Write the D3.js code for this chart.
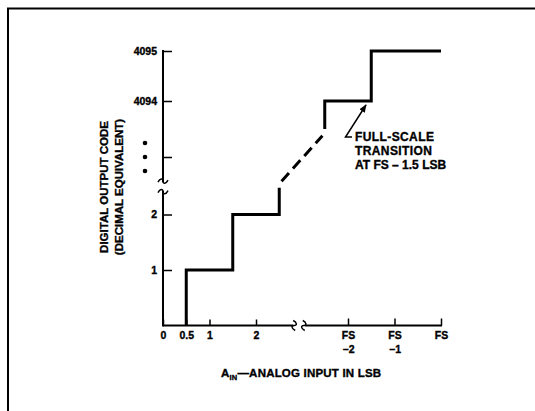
<!DOCTYPE html>
<html>
<head>
<meta charset="utf-8">
<script src="https://cdn.jsdelivr.net/npm/d3@7"></script>
<style>
  body { margin: 0; background: #fff; }
  text { font-family: "Liberation Sans", Arial, sans-serif; font-weight: bold; fill: #000; stroke: #000; stroke-width: 0.35px; }
</style>
</head>
<body>
<div id="chart"></div>
<script>
// step data, lower part in LSB, upper part as offset from FS
const lowX = [0.5, 0.5, 1.5, 1.5, 2.5, 2.5];
const lowY = [0, 1, 1, 2, 2, 2.48];
const highX = [-2.5, -2.5, -1.5, -1.5, 0];
const highY = [4093.5, 4094, 4094, 4095, 4095];
const dashLow = [2.55, 2.6];      // [x, y] on lower scales
const dashHigh = [-2.55, 4093.38]; // [x, y] on upper scales

const xLowTicks = [0, 0.5, 1, 2];
const xLowLabels = ["0", "0.5", "1", "2"];
const xHighTicks = [-2, -1, 0];
const xHighLabels = [["FS", "\u22122"], ["FS", "\u22121"], ["FS"]];
const yLowTicks = [1, 2];
const yHighTicks = [4093, 4094, 4095];
const yHighLabels = ["", "4094", "4095"];

const width = 535, height = 411;

const xLow = d3.scaleLinear().domain([0, 1]).range([163, 209.5]);
const xHigh = d3.scaleLinear().domain([-2, 0]).range([348, 441]);
const yLow = d3.scaleLinear().domain([0, 1]).range([325.5, 270]);
const yHigh = d3.scaleLinear().domain([4093, 4094, 4095]).range([157, 101, 51]);

const svg = d3.select("#chart").append("svg")
    .attr("width", width)
    .attr("height", height);

// frame
svg.append("path")
    .attr("d", "M8,411V8.5H535")
    .attr("fill", "none")
    .attr("stroke", "#000")
    .attr("stroke-width", 2);

const axisColor = "#000";

// x axis lines (broken)
svg.append("line")
    .attr("x1", xLow(0)).attr("x2", xLow(2.8))
    .attr("y1", yLow(0)).attr("y2", yLow(0))
    .attr("stroke", axisColor).attr("stroke-width", 2);
svg.append("line")
    .attr("x1", xHigh(-2.93)).attr("x2", xHigh(0) + 1)
    .attr("y1", yLow(0)).attr("y2", yLow(0))
    .attr("stroke", axisColor).attr("stroke-width", 2);

// y axis lines (broken)
svg.append("line")
    .attr("x1", xLow(0)).attr("x2", xLow(0))
    .attr("y1", yLow(0) + 1).attr("y2", yLow(2.43))
    .attr("stroke", axisColor).attr("stroke-width", 2);
svg.append("line")
    .attr("x1", xLow(0)).attr("x2", xLow(0))
    .attr("y1", yHigh(4092.55)).attr("y2", yHigh(4095) - 1)
    .attr("stroke", axisColor).attr("stroke-width", 2);

// break marks
function vWave(x, y) {
  return `M${x - 1},${y - 5} C${x + 3},${y - 3} ${x + 3},${y} ${x},${y} S${x - 3},${y + 3} ${x + 1},${y + 5}`;
}
function hWave(x, y) {
  return `M${x - 5},${y + 1} C${x - 3},${y - 3} ${x},${y - 3} ${x},${y} S${x + 3},${y + 3} ${x + 5},${y - 1}`;
}
svg.append("path").attr("d", vWave(xLow(2.8) + 1, yLow(0)))
    .attr("fill", "none").attr("stroke", "#000").attr("stroke-width", 1.5);
svg.append("path").attr("d", vWave(xHigh(-2.93) - 1, yLow(0)))
    .attr("fill", "none").attr("stroke", "#000").attr("stroke-width", 1.5);
svg.append("path").attr("d", hWave(xLow(0), yHigh(4092.55) - 1))
    .attr("fill", "none").attr("stroke", "#000").attr("stroke-width", 1.5);
svg.append("path").attr("d", hWave(xLow(0), yLow(2.43) + 1))
    .attr("fill", "none").attr("stroke", "#000").attr("stroke-width", 1.5);

// x ticks
const gxLow = svg.append("g")
    .attr("transform", `translate(0,${yLow(0)})`)
    .call(d3.axisBottom(xLow).tickValues(xLowTicks)
        .tickFormat((d, i) => xLowLabels[i])
        .tickSizeInner(-6).tickSizeOuter(0).tickPadding(6));
const gxHigh = svg.append("g")
    .attr("transform", `translate(0,${yLow(0)})`)
    .call(d3.axisBottom(xHigh).tickValues(xHighTicks)
        .tickFormat((d, i) => xHighLabels[i][0])
        .tickSizeInner(-7).tickSizeOuter(0).tickPadding(6));
gxHigh.selectAll(".tick text").each(function(d, i) {
  const lab = xHighLabels[i];
  if (lab.length > 1) {
    d3.select(this).append("tspan")
        .attr("x", 0).attr("dy", "1.3em").text(lab[1]);
  }
});

// y ticks
const gyLow = svg.append("g")
    .attr("transform", `translate(${xLow(0)},0)`)
    .call(d3.axisLeft(yLow).tickValues(yLowTicks)
        .tickFormat(d3.format("d"))
        .tickSizeInner(-9).tickSizeOuter(0).tickPadding(6));
const gyHigh = svg.append("g")
    .attr("transform", `translate(${xLow(0)},0)`)
    .call(d3.axisLeft(yHigh).tickValues(yHighTicks)
        .tickFormat((d, i) => yHighLabels[i])
        .tickSizeInner(-9).tickSizeOuter(0).tickPadding(6));

[gxLow, gxHigh, gyLow, gyHigh].forEach(g => {
  g.select(".domain").remove();
  g.selectAll(".tick line").attr("stroke", "#000").attr("stroke-width", 1.5);
  g.selectAll(".tick text")
      .style("font-family", "'Liberation Sans', Arial, sans-serif")
      .style("font-weight", "bold")
      .style("font-size", "10.5px")
      .attr("fill", "#000");
});

// steps
const line = d3.line();
svg.append("path")
    .attr("d", line(lowX.map((v, i) => [xLow(v), yLow(lowY[i])])))
    .attr("fill", "none").attr("stroke", "#000").attr("stroke-width", 3);
svg.append("path")
    .attr("d", line(highX.map((v, i) => [xHigh(v), yHigh(highY[i])])))
    .attr("fill", "none").attr("stroke", "#000").attr("stroke-width", 3);
svg.append("line")
    .attr("x1", xLow(dashLow[0])).attr("y1", yLow(dashLow[1]))
    .attr("x2", xHigh(dashHigh[0])).attr("y2", yHigh(dashHigh[1]))
    .attr("stroke", "#000").attr("stroke-width", 3)
    .attr("stroke-dasharray", "11,6");

// ellipsis dots on y axis
svg.selectAll("circle.dot")
    .data([143, 157, 171])
    .join("circle")
    .attr("cx", 145).attr("cy", d => d).attr("r", 2.3).attr("fill", "#000");

// annotation
svg.append("defs").append("marker")
    .attr("id", "arrow")
    .attr("viewBox", "0 0 10 10")
    .attr("refX", 9).attr("refY", 5)
    .attr("markerWidth", 8).attr("markerHeight", 8)
    .attr("markerUnits", "userSpaceOnUse")
    .attr("orient", "auto")
    .append("path").attr("d", "M0,1L10,5L0,9Z").attr("fill", "#000");
svg.append("path")
    .attr("d", "M352,137H345.5L366,105")
    .attr("fill", "none").attr("stroke", "#000").attr("stroke-width", 1.5)
    .attr("marker-end", "url(#arrow)");
const ann = svg.append("text").attr("x", 355).attr("y", 141)
    .style("font-size", "12px").style("letter-spacing", "0.4px");
["FULL-SCALE", "TRANSITION", "AT FS \u2013 1.5 LSB"].forEach((t, i) => {
  ann.append("tspan").attr("x", 355).attr("dy", i ? 14 : 0)
      .style("letter-spacing", i === 2 ? "0px" : null)
      .text(t);
});

// axis titles
const xt = svg.append("text").attr("x", 221).attr("y", 377)
    .style("font-size", "11.5px").style("letter-spacing", "0.2px");
xt.append("tspan").text("A");
xt.append("tspan").attr("dy", 3).style("font-size", "7.5px").text("IN");
xt.append("tspan").attr("dy", -3).text("\u2014ANALOG INPUT IN LSB");

const yt = svg.append("text")
    .attr("transform", "translate(108,187) rotate(-90)")
    .attr("text-anchor", "middle")
    .style("font-size", "11.5px");
yt.append("tspan").attr("x", 0).attr("y", 0).text("DIGITAL OUTPUT CODE");
yt.append("tspan").attr("x", 0).attr("y", 14.5).text("(DECIMAL EQUIVALENT)");
</script>
</body>
</html>
